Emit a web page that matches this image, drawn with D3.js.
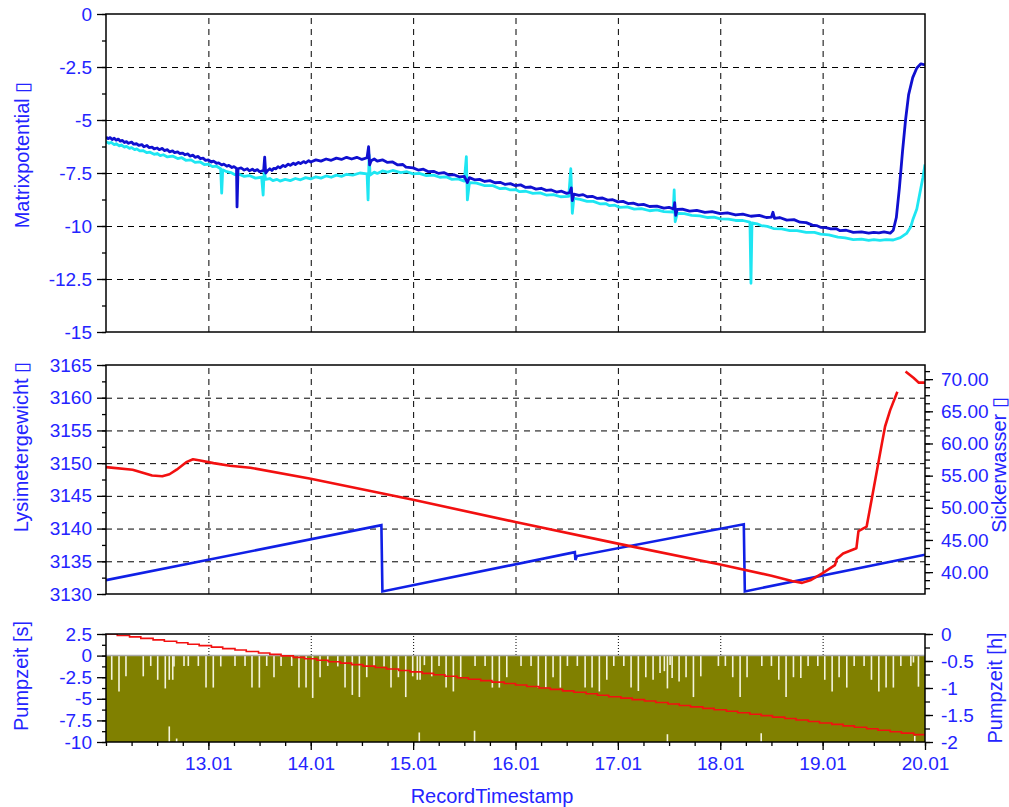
<!DOCTYPE html>
<html>
<head>
<meta charset="utf-8">
<script src="https://cdn.jsdelivr.net/npm/d3@7"></script>
<style>
  body { margin: 0; background: #fff; }
  svg { display: block; font-family: "Liberation Sans", Arial, sans-serif; }
  .ax path { display: none; }
  .ax line { stroke: #000; stroke-width: 1.3; }
  .ax text { fill: #2424ff; font-size: 19px; font-family: "Liberation Sans", Arial, sans-serif; }
  .grid path { display: none; }
  .grid line { stroke: #000; stroke-width: 1; stroke-dasharray: 6,5; }
  .dots line { stroke-dasharray: 1,2; }
  .title { fill: #2424ff; font-size: 20px; }
</style>
</head>
<body>
<div id="chart"></div>
<script>
// ---- data (days in January) ----
const dayTicks = [13, 14, 15, 16, 17, 18, 19, 20];
const gridDays = [13, 14, 15, 16, 17, 18, 19];

// Matrixpotential, sensor 1 (dark blue) and sensor 2 (cyan)
const matrixA = [[12.00,-5.80],[12.02,-5.88],[12.04,-5.83],[12.06,-5.92],[12.08,-5.86],[12.10,-5.95],[12.12,-5.90],[12.14,-6.00],[12.16,-5.96],[12.18,-6.06],[12.20,-6.02],[12.22,-6.10],[12.25,-6.04],[12.27,-6.14],[12.30,-6.12],[12.32,-6.20],[12.35,-6.16],[12.37,-6.26],[12.40,-6.20],[12.42,-6.30],[12.45,-6.28],[12.47,-6.36],[12.50,-6.32],[12.52,-6.40],[12.55,-6.34],[12.57,-6.44],[12.60,-6.40],[12.62,-6.50],[12.65,-6.46],[12.67,-6.54],[12.70,-6.50],[12.72,-6.58],[12.75,-6.56],[12.77,-6.64],[12.80,-6.60],[12.82,-6.70],[12.85,-6.66],[12.87,-6.76],[12.90,-6.72],[12.92,-6.82],[12.95,-6.80],[12.97,-6.90],[13.00,-6.88],[13.03,-6.98],[13.05,-6.94],[13.08,-7.04],[13.10,-7.02],[13.13,-7.12],[13.15,-7.08],[13.18,-7.18],[13.20,-7.14],[13.23,-7.24],[13.25,-7.20],[13.275,-7.28],[13.28,-9.10],[13.29,-7.30],[13.32,-7.26],[13.35,-7.36],[13.38,-7.30],[13.40,-7.40],[13.43,-7.32],[13.45,-7.40],[13.48,-7.34],[13.50,-7.44],[13.54,-7.38],[13.55,-6.75],[13.56,-7.50],[13.58,-7.38],[13.60,-7.30],[13.62,-7.38],[13.64,-7.28],[13.66,-7.30],[13.68,-7.20],[13.70,-7.26],[13.73,-7.14],[13.75,-7.20],[13.78,-7.08],[13.80,-7.14],[13.83,-7.04],[13.85,-7.10],[13.88,-7.00],[13.90,-7.06],[13.93,-6.96],[13.95,-7.02],[13.98,-6.92],[14.00,-6.98],[14.05,-6.88],[14.10,-6.94],[14.15,-6.84],[14.20,-6.90],[14.25,-6.80],[14.30,-6.86],[14.35,-6.76],[14.40,-6.84],[14.45,-6.76],[14.50,-6.86],[14.55,-6.78],[14.565,-6.26],[14.575,-7.12],[14.59,-6.92],[14.62,-6.84],[14.65,-6.94],[14.70,-6.88],[14.75,-7.00],[14.80,-6.98],[14.85,-7.12],[14.90,-7.10],[14.93,-7.22],[15.00,-7.26],[15.05,-7.36],[15.10,-7.32],[15.15,-7.44],[15.20,-7.42],[15.25,-7.52],[15.30,-7.48],[15.35,-7.60],[15.40,-7.58],[15.45,-7.68],[15.50,-7.66],[15.53,-7.95],[15.55,-7.72],[15.60,-7.82],[15.65,-7.80],[15.70,-7.90],[15.75,-7.86],[15.80,-7.96],[15.85,-7.94],[15.90,-8.04],[15.95,-8.00],[16.00,-8.10],[16.05,-8.06],[16.10,-8.18],[16.15,-8.16],[16.20,-8.26],[16.25,-8.22],[16.30,-8.32],[16.35,-8.30],[16.40,-8.40],[16.45,-8.36],[16.50,-8.46],[16.53,-8.42],[16.545,-8.20],[16.555,-8.80],[16.57,-8.50],[16.62,-8.56],[16.66,-8.52],[16.70,-8.62],[16.75,-8.60],[16.80,-8.70],[16.85,-8.68],[16.90,-8.78],[16.95,-8.76],[17.00,-8.86],[17.05,-8.84],[17.10,-8.94],[17.15,-8.92],[17.20,-9.00],[17.25,-8.98],[17.31,-9.08],[17.38,-9.06],[17.45,-9.16],[17.50,-9.12],[17.545,-9.20],[17.555,-8.90],[17.565,-9.50],[17.58,-9.22],[17.63,-9.20],[17.70,-9.30],[17.77,-9.26],[17.85,-9.36],[17.92,-9.32],[18.00,-9.42],[18.07,-9.38],[18.15,-9.48],[18.22,-9.44],[18.30,-9.54],[18.38,-9.50],[18.45,-9.60],[18.50,-9.58],[18.515,-9.35],[18.53,-9.64],[18.58,-9.60],[18.65,-9.72],[18.72,-9.70],[18.78,-9.82],[18.84,-9.84],[18.90,-9.96],[18.94,-9.98],[18.98,-10.06],[19.03,-10.08],[19.08,-10.14],[19.13,-10.12],[19.17,-10.22],[19.23,-10.20],[19.30,-10.30],[19.38,-10.28],[19.45,-10.34],[19.50,-10.30],[19.55,-10.32],[19.60,-10.28],[19.66,-10.34],[19.69,-10.20],[19.72,-9.60],[19.75,-8.20],[19.78,-6.50],[19.81,-5.00],[19.84,-3.80],[19.88,-3.00],[19.92,-2.55],[19.96,-2.35],[20.00,-2.40]];
const matrixB = [[12.00,-6.02],[12.03,-6.10],[12.05,-6.06],[12.08,-6.16],[12.10,-6.12],[12.13,-6.22],[12.15,-6.18],[12.18,-6.28],[12.20,-6.24],[12.23,-6.34],[12.25,-6.30],[12.28,-6.40],[12.30,-6.36],[12.33,-6.46],[12.36,-6.44],[12.40,-6.54],[12.43,-6.52],[12.47,-6.62],[12.50,-6.58],[12.53,-6.68],[12.56,-6.64],[12.60,-6.74],[12.65,-6.70],[12.70,-6.82],[12.74,-6.78],[12.78,-6.90],[12.83,-6.88],[12.87,-7.00],[12.92,-6.98],[12.96,-7.10],[13.00,-7.08],[13.04,-7.20],[13.08,-7.18],[13.12,-7.30],[13.13,-8.45],[13.14,-7.35],[13.18,-7.44],[13.22,-7.48],[13.26,-7.58],[13.30,-7.56],[13.35,-7.66],[13.40,-7.62],[13.46,-7.74],[13.52,-7.70],[13.535,-8.54],[13.545,-7.40],[13.56,-7.80],[13.60,-7.76],[13.63,-7.86],[13.67,-7.80],[13.70,-7.88],[13.75,-7.80],[13.80,-7.86],[13.85,-7.76],[13.90,-7.82],[13.95,-7.72],[14.00,-7.78],[14.05,-7.68],[14.10,-7.74],[14.15,-7.64],[14.20,-7.70],[14.25,-7.60],[14.30,-7.66],[14.35,-7.56],[14.41,-7.60],[14.48,-7.50],[14.55,-7.54],[14.56,-8.77],[14.57,-6.65],[14.58,-7.60],[14.62,-7.46],[14.65,-7.52],[14.70,-7.40],[14.75,-7.46],[14.80,-7.38],[14.88,-7.48],[14.94,-7.44],[15.00,-7.54],[15.06,-7.52],[15.13,-7.62],[15.20,-7.60],[15.26,-7.70],[15.32,-7.68],[15.38,-7.80],[15.44,-7.78],[15.50,-7.88],[15.52,-6.73],[15.53,-8.77],[15.55,-7.95],[15.62,-7.98],[15.70,-8.10],[15.78,-8.10],[15.85,-8.24],[15.90,-8.22],[15.95,-8.30],[16.00,-8.28],[16.04,-8.38],[16.10,-8.36],[16.17,-8.46],[16.24,-8.44],[16.30,-8.54],[16.37,-8.52],[16.44,-8.62],[16.52,-8.60],[16.54,-7.30],[16.555,-9.40],[16.57,-8.70],[16.63,-8.74],[16.70,-8.84],[16.76,-8.84],[16.83,-8.96],[16.88,-8.94],[16.92,-9.04],[16.97,-9.02],[17.02,-9.12],[17.09,-9.10],[17.16,-9.20],[17.23,-9.18],[17.31,-9.28],[17.38,-9.24],[17.45,-9.32],[17.54,-9.34],[17.55,-8.30],[17.56,-9.80],[17.58,-9.40],[17.65,-9.42],[17.72,-9.50],[17.80,-9.52],[17.88,-9.60],[17.94,-9.58],[18.00,-9.66],[18.08,-9.68],[18.15,-9.74],[18.22,-9.74],[18.29,-9.82],[18.30,-12.70],[18.31,-9.85],[18.36,-9.90],[18.40,-9.98],[18.46,-10.02],[18.52,-10.12],[18.60,-10.14],[18.68,-10.22],[18.75,-10.22],[18.84,-10.30],[18.92,-10.30],[18.98,-10.38],[19.06,-10.42],[19.15,-10.52],[19.22,-10.56],[19.30,-10.64],[19.38,-10.62],[19.45,-10.68],[19.50,-10.64],[19.56,-10.68],[19.62,-10.64],[19.69,-10.66],[19.76,-10.55],[19.82,-10.35],[19.86,-10.05],[19.88,-9.72],[19.92,-9.20],[19.95,-8.45],[19.98,-7.70],[20.00,-7.10]];

// Lysimetergewicht (red, left axis), null = gap in the record
const weight = [[12.00,3149.4],[12.26,3149.0],[12.45,3148.1],[12.55,3148.0],[12.62,3148.3],[12.69,3149.0],[12.79,3150.2],[12.85,3150.6],[12.92,3150.4],[13.05,3150.0],[13.21,3149.6],[13.41,3149.3],[14.00,3147.6],[15.00,3144.4],[16.00,3141.0],[17.00,3137.7],[18.00,3134.5],[18.50,3132.8],[18.70,3132.0],[18.80,3131.7],[18.88,3132.1],[19.00,3133.2],[19.12,3134.4],[19.14,3135.4],[19.20,3136.2],[19.33,3137.0],[19.35,3139.6],[19.43,3140.3],[19.49,3145.4],[19.58,3153.1],[19.61,3155.6],[19.66,3158.1],[19.73,3160.9],[19.77,null],[19.81,3164.0],[19.89,3163.0],[19.94,3162.3],[20.00,3162.3]];
// Sickerwasser (blue, right axis)
const seepage = [[12.00,38.75],[14.69,47.3],[14.70,37.0],[16.58,43.1],[16.585,41.9],[16.60,42.5],[18.23,47.45],[18.24,37.0],[20.00,42.7]];

// Pumpzeit: band of the bars and the gaps between them
const pumpBand = [0, -10];
const gapDays = [12.056,12.127,12.195,12.364,12.437,12.505,12.579,12.618,12.652,12.664,12.762,12.804,12.902,12.977,13.048,13.121,13.26,13.358,13.426,13.498,13.57,13.641,13.71,13.814,13.885,13.954,14.019,14.091,14.166,14.264,14.335,14.406,14.475,14.547,14.618,
  14.716,14.784,14.856,14.928,14.996,15.041,15.068,15.11,15.182,15.253,15.322,15.393,15.465,15.605,15.703,15.774,15.842,15.915,16.054,16.152,16.223,16.296,16.367,16.438,16.507,16.604,16.68,16.748,16.819,16.892,16.96,17.058,17.129,17.2,17.273,17.344,
  17.412,17.454,17.484,17.51,17.53,17.598,17.666,17.738,17.81,17.982,18.05,18.122,18.194,18.262,18.406,18.5,18.572,18.643,18.715,18.787,18.858,18.953,19.021,19.093,19.161,19.236,19.308,19.405,19.477,19.549,19.62,19.691,19.764,19.862,19.887,19.936];
const gapDepths = [-2.8,-4.15,-2.4,-2.4,-1.2,-2.8,-3.8,-2.8,-2.8,-1.25,-1.2,-1.2,-1.2,-3.7,-3.7,-1.25,-1.2,-1.2,-3.7,-3.7,-1.2,-2.5,-1.2,-1.2,-3.7,-3.7,-4.9,-2.5,-1.2,-1.25,-3.7,-4.55,-4.8,-2.5,-1.2,
  -1.25,-3.7,-2.5,-4.8,-2.4,-2.8,-2.8,-1.1,-2.4,-1.2,-3.7,-4.15,-2.5,-1.2,-1.2,-3.7,-3.7,-2.5,-1.2,-1.2,-3.7,-3.7,-2.5,-3.7,-1.2,-1.2,-3.7,-3.7,-4.15,-2.8,-1.2,-1.2,-3.7,-4.1,-2.5,-2.8,
  -2.0,-1.8,-3.8,-1.1,-2.6,-3.0,-2.5,-4.8,-2.4,-1.2,-1.2,-2.5,-4.8,-2.5,-1.2,-1.2,-2.8,-4.8,-2.5,-2.6,-1.2,-1.2,-2.8,-4.15,-2.5,-3.7,-1.2,-1.2,-2.8,-4.15,-3.7,-3.7,-1.2,-1.2,-0.8,-3.6];
const lowGapDays = [12.618, 12.69, 15.06, 15.60, 17.484, 18.40, 19.90];
const lowGapTops = [-8.2, -9.6, -8.9, -8.7, -9.1, -9.0, -9.3];

// Pumpzeit [h] (red steps, right axis)
const pumpTimes = [12.00,12.11,12.23,12.34,12.46,12.57,12.69,12.80,12.91,13.03,13.14,13.26,13.37,13.49,13.60,13.71,13.83,13.94,14.06,14.17,14.29,14.40,14.51,14.63,14.74,14.86,14.97,15.09,15.20,15.31,15.43,15.54,15.66,15.77,15.89,16.00,16.11,16.23,16.34,16.46,16.57,16.69,16.80,16.91,17.03,17.14,17.26,17.37,17.49,17.60,17.71,17.83,17.94,18.06,18.17,18.29,18.40,18.51,18.63,18.74,18.86,18.97,19.09,19.20,19.31,19.43,19.54,19.66,19.77,19.89,20.00];
const pumpHours = [0,-0.027,-0.054,-0.081,-0.108,-0.135,-0.162,-0.189,-0.216,-0.243,-0.270,-0.297,-0.324,-0.351,-0.378,-0.405,-0.432,-0.459,-0.486,-0.513,-0.540,-0.567,-0.594,-0.621,-0.648,-0.675,-0.702,-0.729,-0.756,-0.783,-0.810,-0.837,-0.864,-0.891,-0.918,-0.945,-0.972,-0.999,-1.026,-1.053,-1.080,-1.107,-1.134,-1.161,-1.188,-1.215,-1.242,-1.269,-1.296,-1.323,-1.350,-1.377,-1.404,-1.431,-1.458,-1.485,-1.512,-1.539,-1.566,-1.593,-1.620,-1.647,-1.674,-1.701,-1.728,-1.755,-1.782,-1.809,-1.836,-1.863,-1.890];

// tick values
const matrixTicks = [0, -2.5, -5, -7.5, -10, -12.5, -15];
const weightTicks = [3165, 3160, 3155, 3150, 3145, 3140, 3135, 3130];
const seepTicks = [70, 65, 60, 55, 50, 45, 40];
const pumpSecTicks = [2.5, 0, -2.5, -5, -7.5, -10];
const pumpHourTicks = [0, -0.5, -1, -1.5, -2];

// ---- layout ----
const width = 1009, height = 807;
const left = 106, right = 925;
const top1 = [14, 332], top2 = [365, 594], top3 = [634, 742];

const toDate = d => new Date(Date.UTC(2010, 0, 1) + (d - 1) * 864e5);
const x = d3.scaleUtc().domain([toDate(12), toDate(20)]).range([left, right]);

const yMatrix = d3.scaleLinear().domain([-15, 0]).range([top1[1], top1[0]]);
const yWeight = d3.scaleLinear().domain([3130, 3165]).range([top2[1], top2[0]]);
const ySeep = d3.scaleLinear().domain([36.6, 72.2]).range([top2[1], top2[0]]);
const ySec = d3.scaleLinear().domain([-10, 2.5]).range([top3[1], top3[0]]);
const yHour = d3.scaleLinear().domain([-2, 0]).range([top3[1], top3[0]]);

const svg = d3.select("#chart").append("svg")
  .attr("width", width)
  .attr("height", height);

const defs = svg.append("defs");
[["c1", top1], ["c2", top2], ["c3", top3]].forEach(([id, r]) => {
  defs.append("clipPath").attr("id", id).append("rect")
    .attr("x", left).attr("y", r[0]).attr("width", right - left).attr("height", r[1] - r[0]);
});

const between = (a, b, step) => d3.range(a, b + step / 2, step);

function hGrid(y, values, cls) {
  svg.append("g").attr("class", "grid " + (cls || ""))
    .attr("transform", `translate(${left},0)`)
    .call(d3.axisLeft(y).tickValues(values).tickSize(-(right - left)).tickFormat(""));
}
function vGrid(r, cls) {
  svg.append("g").attr("class", "grid " + (cls || ""))
    .attr("transform", `translate(0,${r[1]})`)
    .call(d3.axisBottom(x).tickValues(gridDays.map(toDate)).tickSize(-(r[1] - r[0])).tickFormat(""));
}
function leftAxis(y, major, minor, fmt) {
  svg.append("g").attr("class", "ax").attr("transform", `translate(${left},0)`)
    .call(d3.axisLeft(y).tickValues(minor).tickSize(4).tickFormat(""));
  svg.append("g").attr("class", "ax").attr("transform", `translate(${left},0)`)
    .call(d3.axisLeft(y).tickValues(major).tickSize(9).tickPadding(5).tickFormat(fmt));
}
function rightAxis(y, major, minor, fmt) {
  svg.append("g").attr("class", "ax").attr("transform", `translate(${right},0)`)
    .call(d3.axisRight(y).tickValues(minor).tickSize(5).tickFormat(""));
  svg.append("g").attr("class", "ax").attr("transform", `translate(${right},0)`)
    .call(d3.axisRight(y).tickValues(major).tickSize(8).tickPadding(8).tickFormat(fmt));
}
function frame(r) {
  svg.append("rect").attr("x", left).attr("y", r[0])
    .attr("width", right - left).attr("height", r[1] - r[0])
    .attr("fill", "none").attr("stroke", "#000").attr("stroke-width", 1.5);
}
function title(txt, tx, ty) {
  svg.append("text").attr("class", "title")
    .attr("transform", `translate(${tx},${ty}) rotate(-90)`)
    .attr("text-anchor", "middle").text(txt);
}
const fmtPlain = d => String(d);

// ---- panel 1: Matrixpotential ----
hGrid(yMatrix, [-2.5, -5, -7.5, -10, -12.5]);
vGrid(top1);
const lineM = d3.line().x(d => x(toDate(d[0]))).y(d => yMatrix(d[1]));
const g1 = svg.append("g").attr("clip-path", "url(#c1)");
g1.append("path").datum(matrixB).attr("d", lineM)
  .attr("fill", "none").attr("stroke", "#1ee6f2").attr("stroke-width", 2.8).attr("stroke-linejoin", "round");
g1.append("path").datum(matrixA).attr("d", lineM)
  .attr("fill", "none").attr("stroke", "#1010d0").attr("stroke-width", 2.8).attr("stroke-linejoin", "round");
frame(top1);
leftAxis(yMatrix, matrixTicks, between(-15, 0, 1.25), fmtPlain);
title("Matrixpotential \u25AF", 29, 155);

// ---- panel 2: Lysimetergewicht / Sickerwasser ----
hGrid(yWeight, [3160, 3155, 3150, 3145, 3140, 3135]);
vGrid(top2);
const g2 = svg.append("g").attr("clip-path", "url(#c2)");
g2.append("path").datum(seepage)
  .attr("d", d3.line().x(d => x(toDate(d[0]))).y(d => ySeep(d[1])))
  .attr("fill", "none").attr("stroke", "#1020e6").attr("stroke-width", 2.6);
g2.append("path").datum(weight)
  .attr("d", d3.line().defined(d => d[1] !== null).x(d => x(toDate(d[0]))).y(d => yWeight(d[1])))
  .attr("fill", "none").attr("stroke", "#f21010").attr("stroke-width", 2.6).attr("stroke-linejoin", "round");
frame(top2);
leftAxis(yWeight, weightTicks, between(3130, 3165, 2.5), fmtPlain);
rightAxis(ySeep, seepTicks, between(37.5, 71.25, 1.25), d => d.toFixed(2));
title("Lysimetergewicht \u25AF", 28, 447);
title("Sickerwasser \u25AF", 1006, 465);

// ---- panel 3: Pumpzeit ----
vGrid(top3, "dots");
const g3 = svg.append("g").attr("clip-path", "url(#c3)");
g3.append("rect")
  .attr("x", x(toDate(12))).attr("width", x(toDate(20)) - x(toDate(12)))
  .attr("y", ySec(pumpBand[0])).attr("height", ySec(pumpBand[1]) - ySec(pumpBand[0]))
  .attr("fill", "#808000");
g3.selectAll(".gap").data(gapDays).enter().append("line")
  .attr("x1", d => x(toDate(d))).attr("x2", d => x(toDate(d)))
  .attr("y1", ySec(0)).attr("y2", (d, i) => ySec(gapDepths[i]))
  .attr("stroke", "#f4f4dc").attr("stroke-width", 1.6);
g3.selectAll(".lowgap").data(lowGapDays).enter().append("line")
  .attr("x1", d => x(toDate(d))).attr("x2", d => x(toDate(d)))
  .attr("y1", ySec(-10)).attr("y2", (d, i) => ySec(lowGapTops[i]))
  .attr("stroke", "#f4f4dc").attr("stroke-width", 1.6);
g3.append("line").attr("x1", left).attr("x2", right)
  .attr("y1", ySec(0)).attr("y2", ySec(0))
  .attr("stroke", "#a8a8a8").attr("stroke-width", 1.5);
g3.append("path").datum(pumpTimes.map((t, i) => [t, pumpHours[i]]))
  .attr("d", d3.line().curve(d3.curveStepAfter).x(d => x(toDate(d[0]))).y(d => yHour(d[1])))
  .attr("fill", "none").attr("stroke", "#f21010").attr("stroke-width", 1.6);
frame(top3);
leftAxis(ySec, pumpSecTicks, between(-10, 2.5, 1.25), fmtPlain);
rightAxis(yHour, pumpHourTicks, between(-2, 0, 0.25), fmtPlain);
title("Pumpzeit [s]", 28, 676);
title("Pumpzeit [h]", 1002, 688);

// x axis
svg.append("g").attr("class", "ax").attr("transform", `translate(0,${top3[1]})`)
  .call(d3.axisBottom(x).ticks(d3.utcHour.every(6)).tickSize(4).tickFormat(""));
svg.append("g").attr("class", "ax").attr("transform", `translate(0,${top3[1]})`)
  .call(d3.axisBottom(x).tickValues(dayTicks.map(toDate)).tickSize(8).tickPadding(7)
    .tickFormat(d3.utcFormat("%d.%m")));
svg.append("text").attr("class", "title")
  .attr("x", 492).attr("y", 803).attr("text-anchor", "middle")
  .text("RecordTimestamp");
</script>
</body>
</html>
